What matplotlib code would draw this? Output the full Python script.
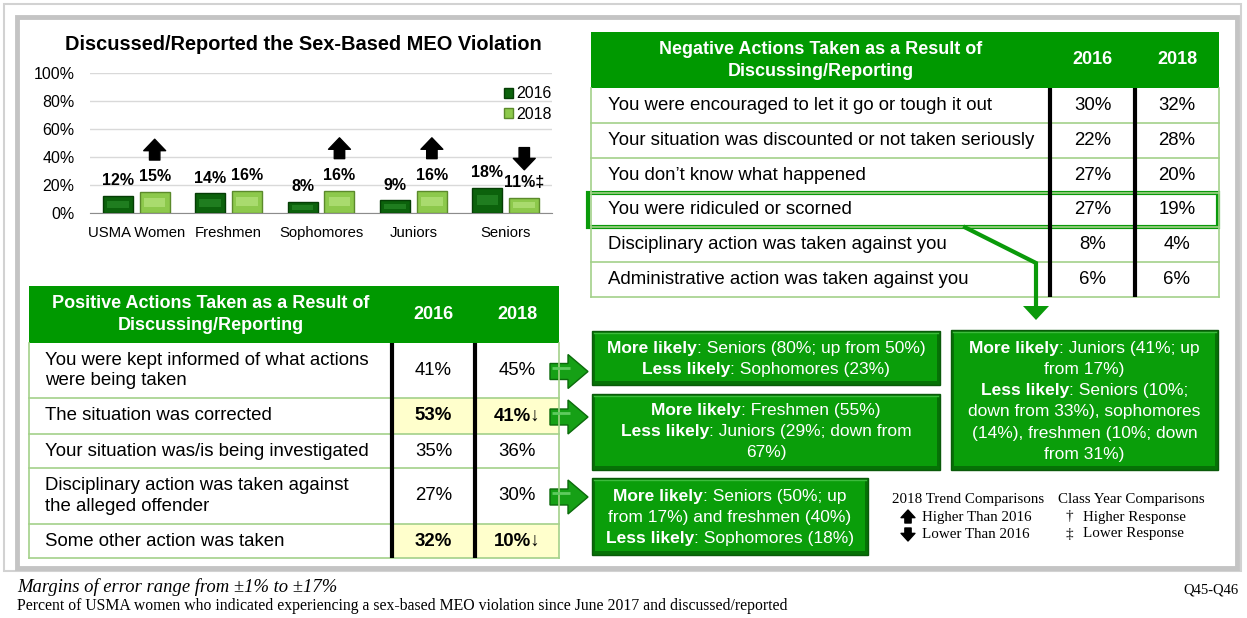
import matplotlib
matplotlib.use('Agg')
import matplotlib.pyplot as plt
from matplotlib.patches import Rectangle, Polygon, Patch
from matplotlib.transforms import offset_copy
import numpy as np

SANS = ['Liberation Sans', 'DejaVu Sans']
SERIF = ['Liberation Serif', 'DejaVu Serif']
plt.rcParams['font.family'] = SANS

# bar chart data
groups = ['USMA Women', 'Freshmen', 'Sophomores', 'Juniors', 'Seniors']
pct_2016 = [12, 14, 8, 9, 18]
pct_2018 = [15, 16, 16, 16, 11]
trend_2018 = ['up', None, 'up', 'up', 'down']
class_mark_2018 = ['', '', '', '', '\u2021']

# negative actions table
neg_title = ['Negative Actions Taken as a Result of', 'Discussing/Reporting']
neg_items = ['You were encouraged to let it go or tough it out',
             'Your situation was discounted or not taken seriously',
             'You don\u2019t know what happened',
             'You were ridiculed or scorned',
             'Disciplinary action was taken against you',
             'Administrative action was taken against you']
neg_2016 = [30, 22, 27, 27, 8, 6]
neg_2018 = [32, 28, 20, 19, 4, 6]

# positive actions table
pos_title = ['Positive Actions Taken as a Result of', 'Discussing/Reporting']
pos_items = ['You were kept informed of what actions\nwere being taken',
             'The situation was corrected',
             'Your situation was/is being investigated',
             'Disciplinary action was taken against\nthe alleged offender',
             'Some other action was taken']
pos_2016 = [41, 53, 35, 27, 32]
pos_2018 = [45, 41, 36, 30, 10]
pos_sig = [False, True, False, False, True]

years = ['2016', '2018']

# subgroup call-out boxes (bold part, regular part) per line
box_pos1 = [[('More likely', True), (': Seniors (80%; up from 50%)', False)],
            [('Less likely', True), (': Sophomores (23%)', False)]]
box_pos2 = [[('More likely', True), (': Freshmen (55%)', False)],
            [('Less likely', True), (': Juniors (29%; down from', False)],
            [('67%)', False)]]
box_pos4 = [[('More likely', True), (': Seniors (50%; up', False)],
            [('from 17%) and freshmen (40%)', False)],
            [('Less likely', True), (': Sophomores (18%)', False)]]
box_neg4 = [[('More likely', True), (': Juniors (41%; up', False)],
            [('from 17%)', False)],
            [('Less likely', True), (': Seniors (10%;', False)],
            [('down from 33%), sophomores', False)],
            [('(14%), freshmen (10%; down', False)],
            [('from 31%)', False)]]

HEAD_GREEN = '#009900'
LINE_GREEN = '#A3D18A'
BOX_GREEN = '#0A9E0A'
BOX_DARK = '#067206'
TXT = 13.4

W, H = 1247, 618
fig = plt.figure(figsize=(W / 100, H / 100), dpi=100)
bg = fig.add_axes([0, 0, 1, 1])
bg.set_xlim(0, W)
bg.set_ylim(H, 0)
bg.axis('off')

# frames
bg.add_patch(Rectangle((4, 4), 1237, 567, fill=False, ec='#D2D2D2', lw=1.5))
bg.add_patch(Rectangle((17, 17), 1220, 551, fill=False, ec='#C4C4C4', lw=3.5))

renderer = fig.canvas.get_renderer()


def rich_lines(xc, y0, lines, size=12.5, step=21.3, color='white'):
    for k, segs in enumerate(lines):
        y = y0 + k * step
        texts = []
        for s, b in segs:
            texts.append(bg.text(0, y, s, fontsize=size, color=color, va='center', ha='left',
                                 fontweight='bold' if b else 'normal'))
        widths = [t.get_window_extent(renderer=renderer).width for t in texts]
        x = xc - sum(widths) / 2
        for t, w in zip(texts, widths):
            t.set_x(x)
            x += w


def green_box(x0, y0, x1, y1, lines, y_first):
    bg.add_patch(Rectangle((x0, y0), x1 - x0, y1 - y0, fc=BOX_DARK, ec='#0A5A0A', lw=1))
    bg.add_patch(Rectangle((x0 + 3, y0 + 3), x1 - x0 - 6, y1 - y0 - 7, fc=BOX_GREEN, ec='none'))
    bg.plot([x0 + 2, x1 - 2], [y0 + 2, y0 + 2], color='#3DBB3D', lw=1)
    rich_lines((x0 + x1) / 2, y_first, lines)


def block_arrow(x0, yc):
    pts = [(x0, yc - 8), (x0 + 18, yc - 8), (x0 + 18, yc - 17), (x0 + 38, yc),
           (x0 + 18, yc + 17), (x0 + 18, yc + 8), (x0, yc + 8)]
    bg.add_patch(Polygon(pts, closed=True, fc='#16A016', ec='#0B6A0B', lw=1))
    bg.plot([x0 + 2, x0 + 20], [yc - 4, yc - 4], color='#5FCB5F', lw=2, solid_capstyle='butt')


def draw_table(left, right, c1, c2, top, hbot, row_edges, title, items, v16, v18, sig, text_x):
    bg.add_patch(Rectangle((left, top), right - left, hbot - top, fc=HEAD_GREEN, ec='none'))
    hc = (left + c1) / 2
    mid = (top + hbot) / 2
    bg.text(hc, mid - 11, title[0], ha='center', va='center', color='white', fontsize=13, fontweight='bold')
    bg.text(hc, mid + 11, title[1], ha='center', va='center', color='white', fontsize=13, fontweight='bold')
    bg.text((c1 + c2) / 2, mid, years[0], ha='center', va='center', color='white', fontsize=13, fontweight='bold')
    bg.text((c2 + right) / 2, mid, years[1], ha='center', va='center', color='white', fontsize=13, fontweight='bold')
    for i, item in enumerate(items):
        ya, yb = row_edges[i], row_edges[i + 1]
        ym = (ya + yb) / 2
        hot = sig[i]
        if hot:
            bg.add_patch(Rectangle((c1, ya), right - c1, yb - ya, fc='#FFFFCC', ec='none'))
        bg.text(text_x, ym, item, ha='left', va='center', fontsize=TXT, linespacing=1.3)
        s16 = f'{v16[i]}%'
        s18 = f'{v18[i]}%' + ('\u2193' if hot else '')
        fw = 'bold' if hot else 'normal'
        bg.text((c1 + c2) / 2, ym, s16, ha='center', va='center', fontsize=TXT, fontweight=fw)
        bg.text((c2 + right) / 2, ym, s18, ha='center', va='center', fontsize=TXT, fontweight=fw)
        bg.plot([left, right], [yb, yb], color=LINE_GREEN, lw=1.2)
    bg.plot([left, left], [hbot, row_edges[-1]], color=LINE_GREEN, lw=1.2)
    bg.plot([right, right], [hbot, row_edges[-1]], color=LINE_GREEN, lw=1.2)
    for cx in (c1, c2):
        bg.plot([cx, cx], [hbot, row_edges[-1]], color='black', lw=3, solid_capstyle='butt')


# ---- bar chart ----
bg.text(303, 44, 'Discussed/Reported the Sex-Based MEO Violation', ha='center', va='center',
        fontsize=14.4, fontweight='bold')
ax = fig.add_axes([90 / W, 1 - 213 / H, (552 - 90) / W, (213 - 73) / H])
ax.set_facecolor('none')
x = np.arange(len(groups))
bw = 0.325
off = 0.2
ax.bar(x - off, pct_2016, bw, color='#0C620C', edgecolor='#053D05', lw=1, zorder=3)
ax.bar(x - off, np.array(pct_2016) * 0.4, bw * 0.72, bottom=np.array(pct_2016) * 0.3,
       color='#1F7D1F', zorder=4)
ax.bar(x + off, pct_2018, bw, color='#8DC94C', edgecolor='#5B8A2B', lw=1, zorder=3)
ax.bar(x + off, np.array(pct_2018) * 0.4, bw * 0.72, bottom=np.array(pct_2018) * 0.3,
       color='#A9DB6E', zorder=4)
for i in range(len(groups)):
    ax.annotate(f'{pct_2016[i]}%', (x[i] - off, pct_2016[i]), xytext=(0, 11), textcoords='offset points',
                ha='center', va='center', fontsize=11.5, fontweight='bold')
    ax.annotate(f'{pct_2018[i]}%{class_mark_2018[i]}', (x[i] + off, pct_2018[i]), xytext=(0, 11),
                textcoords='offset points', ha='center', va='center', fontsize=11.5, fontweight='bold')
    t = trend_2018[i]
    if t is None:
        continue
    style = 'simple,head_length=0.55,head_width=1.05,tail_width=0.5'
    if t == 'up':
        tr = offset_copy(ax.transData, fig=fig, x=0, y=38, units='points')
        ax.annotate('', xy=(x[i] + off, pct_2018[i]), xycoords=tr, xytext=(0, -15), textcoords='offset points',
                    arrowprops=dict(arrowstyle=style, color='black', shrinkA=0, shrinkB=0, mutation_scale=15))
    else:
        tr = offset_copy(ax.transData, fig=fig, x=0, y=20, units='points')
        ax.annotate('', xy=(x[i] + off, pct_2018[i]), xycoords=tr, xytext=(0, 16), textcoords='offset points',
                    arrowprops=dict(arrowstyle=style, color='black', shrinkA=0, shrinkB=0, mutation_scale=15))
ax.set_xlim(-0.5, len(groups) - 0.5)
ax.set_ylim(0, 100)
ax.set_yticks(range(0, 101, 20))
ax.set_yticklabels([f'{v}%' for v in range(0, 101, 20)], fontsize=11.5)
ax.set_xticks(x)
ax.set_xticklabels(groups, fontsize=10.7)
ax.tick_params(length=0)
ax.tick_params(axis='y', pad=11)
ax.tick_params(axis='x', pad=9)
ax.grid(axis='y', color='#D9D9D9', lw=1, zorder=0)
for s in ('top', 'right', 'left'):
    ax.spines[s].set_visible(False)
ax.spines['bottom'].set_color('#8C8C8C')
ax.legend(handles=[Patch(fc='#0C620C', ec='#053D05', label='2016'),
                   Patch(fc='#8DC94C', ec='#5B8A2B', label='2018')],
          loc='upper right', bbox_to_anchor=(1.0, 0.905), frameon=False, fontsize=11.5,
          handlelength=0.6, handleheight=0.6, handletextpad=0.2, labelspacing=0.35, borderpad=0,
          borderaxespad=0)

# ---- negative table ----
neg_rows = list(np.linspace(88, 297, len(neg_items) + 1))
draw_table(591, 1219, 1050, 1135, 32, 88, neg_rows, neg_title, neg_items, neg_2016, neg_2018,
           [False] * len(neg_items), 608)
# highlight of the ridiculed row and connector arrow
bg.add_patch(Rectangle((588, neg_rows[3]), 630, neg_rows[4] - neg_rows[3], fill=False, ec='#0A9A0A', lw=3))
bg.plot([965, 1036, 1036], [neg_rows[4], 263, 308], color='#0A9A0A', lw=3, solid_joinstyle='miter')
bg.add_patch(Polygon([(1023, 306), (1049, 306), (1036, 320)], closed=True, fc='#0A9A0A', ec='none'))

# ---- positive table ----
pos_rows = [343, 398, 434, 468, 524, 558]
draw_table(29, 559, 392, 475, 286, 343, pos_rows, pos_title, pos_items, pos_2016, pos_2018, pos_sig, 45)

# arrows and call-out boxes
block_arrow(550, (pos_rows[0] + pos_rows[1]) / 2 + 1)
block_arrow(550, (pos_rows[1] + pos_rows[2]) / 2 + 1)
block_arrow(550, (pos_rows[3] + pos_rows[4]) / 2 + 1)
green_box(592, 331, 940, 385, box_pos1, 348)
green_box(592, 394, 940, 470, box_pos2, 410)
green_box(592, 478, 868, 555, box_pos4, 496)
green_box(951, 330, 1218, 470, box_neg4, 348)

# symbol legend
bg.text(892, 500, '2018 Trend Comparisons', fontsize=10.8, family=SERIF, va='center')
bg.text(922, 517, 'Higher Than 2016', fontsize=10.8, family=SERIF, va='center')
bg.text(922, 534, 'Lower Than 2016', fontsize=10.8, family=SERIF, va='center')
small = 'simple,head_length=0.55,head_width=1.0,tail_width=0.45'
bg.annotate('', xy=(908, 510), xytext=(908, 523),
            arrowprops=dict(arrowstyle=small, color='black', shrinkA=0, shrinkB=0, mutation_scale=10))
bg.annotate('', xy=(908, 541), xytext=(908, 528),
            arrowprops=dict(arrowstyle=small, color='black', shrinkA=0, shrinkB=0, mutation_scale=10))
bg.text(1058, 500, 'Class Year Comparisons', fontsize=10.8, family=SERIF, va='center')
bg.text(1069, 517, '\u2020', fontsize=10.8, family=SERIF, va='center', ha='center')
bg.text(1083, 517, 'Higher Response', fontsize=10.8, family=SERIF, va='center')
bg.text(1069, 534, '\u2021', fontsize=10.8, family=SERIF, va='center', ha='center')
bg.text(1083, 534, 'Lower Response', fontsize=10.8, family=SERIF, va='center')

# footnotes
bg.text(17, 587, 'Margins of error range from \u00b11% to \u00b117%', fontsize=13.4, family=SERIF,
        style='italic', va='center')
bg.text(17, 606, 'Percent of USMA women who indicated experiencing a sex-based MEO violation since June 2017 '
        'and discussed/reported', fontsize=11.3, family=SERIF, va='center')
bg.text(1238, 590, 'Q45-Q46', fontsize=10.5, family=SERIF, va='center', ha='right')

fig.savefig('out.png', dpi=100)
